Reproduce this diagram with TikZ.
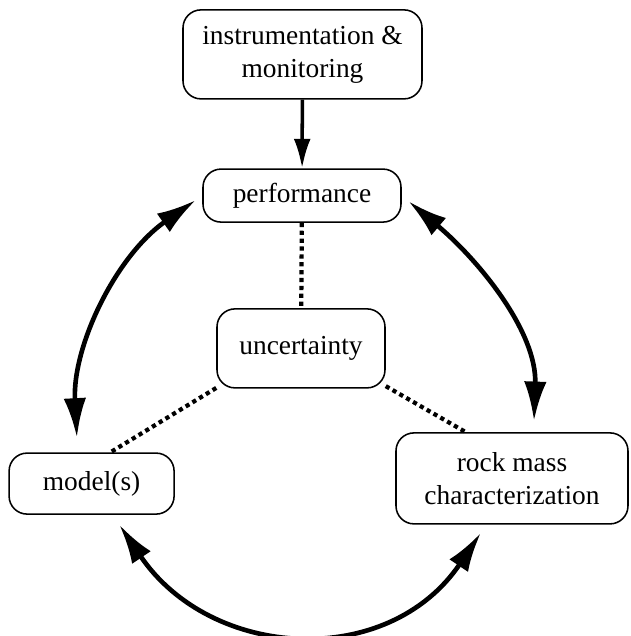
\documentclass[tikz,border=0pt]{standalone}
\usepackage{fontspec}
\setmainfont{Liberation Serif}
\usetikzlibrary{calc, positioning}
\usetikzlibrary{arrows.meta}

\begin{document}
\begin{tikzpicture}[
    box/.style={draw, line width=1.1pt, rounded corners=0.45cm, align=center,
        inner sep=0pt, font=\fontsize{19.5}{23.5}\selectfont},
    cyclearrow/.style={line width=3.3pt,
        {Latex[length=28pt,width=16pt]}-{Latex[length=28pt,width=16pt]}},
    link/.style={line width=3pt, dash pattern=on 3pt off 2.6pt}
]
\useasboundingbox (0,0) rectangle (15.75,15.9);

% The five boxes
\node[box, minimum width=5.975cm, minimum height=2.225cm] (monitor) at (7.5625,14.54)
    {instrumentation \&\\monitoring};
\node[box, minimum width=4.95cm, minimum height=1.325cm] (perf) at (7.55,11.01)
    {performance};
\node[box, minimum width=4.2cm, minimum height=1.975cm] (unc) at (7.525,7.19)
    {uncertainty};
\node[box, minimum width=4.125cm, minimum height=1.525cm] (model) at (2.29,3.81)
    {model(s)};
\node[box, minimum width=5.8cm, minimum height=2.275cm] (rock) at (12.8,3.94)
    {rock mass\\characterization};

% Monitoring feeds the performance
\draw[line width=2.5pt, -{Latex[length=21pt,width=12pt]}] (monitor) -- (perf);

% Two-way links round the outside
\draw[cyclearrow, shorten <=0.37cm, shorten >=0.2cm]
    (model.114) to[out=93, in=215, looseness=0.95] (perf.west);
\draw[cyclearrow, shorten <=0.22cm, shorten >=0.28cm]
    (perf.east) to[out=-40, in=88, looseness=0.95] (rock.65);
\draw[cyclearrow, shorten <=0.3cm, shorten >=0.25cm]
    (model.-56) to[out=-56, in=236, looseness=1.2] (rock.241);

% Uncertainty touches all three
\draw[link] (perf) -- (unc);
\draw[link] (unc.205) -- (model.59);
\draw[link] (unc.-24) -- (rock.135);
\end{tikzpicture}
\end{document}
